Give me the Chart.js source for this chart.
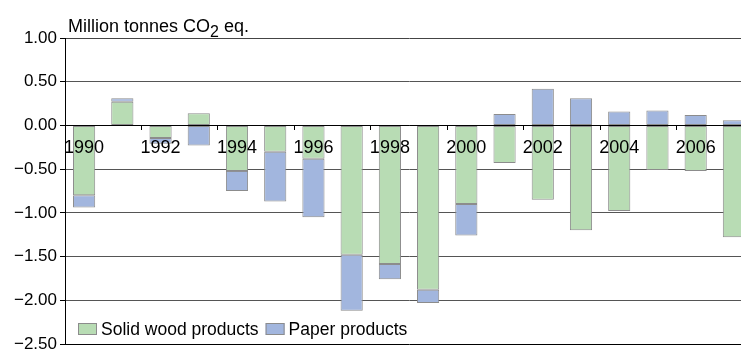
<!DOCTYPE html>
<html>
<head>
<meta charset="utf-8">
<script src="https://cdn.jsdelivr.net/npm/chart.js@4.4.0/dist/chart.umd.min.js"></script>
<style>
  html, body { margin: 0; padding: 0; background: #fff; overflow: hidden; }
  #wrap { position: relative; width: 753px; height: 349px; }
</style>
</head>
<body>
<div id="wrap"><canvas id="hwpChart"></canvas></div>
<script>
const years = ['1990','1991','1992','1993','1994','1995','1996','1997','1998','1999',
               '2000','2001','2002','2003','2004','2005','2006','2007'];
const solidWood = [-0.80, 0.27, -0.145, 0.14, -0.52, -0.30, -0.38, -1.48, -1.585, -1.88,
                   -0.90, -0.43, -0.85, -1.20, -0.98, -0.51, -0.52, -1.28];
const paper = [-0.14, 0.04, -0.065, -0.23, -0.23, -0.57, -0.67, -0.64, -0.175, -0.15,
               -0.36, 0.13, 0.42, 0.31, 0.16, 0.17, 0.12, 0.06];
const yTicks = [1.0, 0.5, 0.0, -0.5, -1.0, -1.5, -2.0, -2.5];

const FONT = '"Liberation Sans", Arial, sans-serif';
const GREEN = '#b8dcb4';
const BLUE = '#a2b6de';
const EDGE = '#8c8c8c';

// unit label above the plot, with a lowered "2"
const unitTitle = {
  id: 'unitTitle',
  afterDraw(chart) {
    const { ctx, chartArea } = chart;
    const x0 = chartArea.left + 3;
    const base = chartArea.top - 6;
    ctx.save();
    ctx.fillStyle = '#000';
    ctx.textBaseline = 'alphabetic';
    ctx.font = '18px ' + FONT;
    let x = x0;
    ctx.fillText('Million tonnes CO', x, base);
    x += ctx.measureText('Million tonnes CO').width;
    ctx.font = '16px ' + FONT;
    ctx.fillText('2', x, base + 5);
    x += ctx.measureText('2').width;
    ctx.font = '18px ' + FONT;
    ctx.fillText(' eq.', x, base);
    ctx.restore();
  }
};

// legend row inside the plot, bottom left
const insideLegend = {
  id: 'insideLegend',
  afterDraw(chart) {
    const { ctx, chartArea } = chart;
    let x = chartArea.left + 13;
    const boxTop = chartArea.bottom - 21;
    ctx.save();
    ctx.font = '17.5px ' + FONT;
    ctx.textBaseline = 'alphabetic';
    chart.data.datasets.forEach(ds => {
      ctx.fillStyle = ds.backgroundColor;
      ctx.fillRect(x, boxTop, 19, 12);
      ctx.strokeStyle = EDGE;
      ctx.lineWidth = 1;
      ctx.strokeRect(x + 0.5, boxTop + 0.5, 18, 11);
      ctx.fillStyle = '#000';
      ctx.fillText(ds.label, x + 23, boxTop + 12);
      x += 23 + ctx.measureText(ds.label).width + 7;
    });
    ctx.restore();
  }
};

new Chart(document.getElementById('hwpChart'), {
  type: 'bar',
  data: {
    labels: years,
    datasets: [
      { label: 'Solid wood products', data: solidWood, backgroundColor: GREEN },
      { label: 'Paper products', data: paper, backgroundColor: BLUE }
    ]
  },
  options: {
    responsive: true,
    maintainAspectRatio: false,
    animation: false,
    events: [],
    layout: { padding: { left: 0, top: 38, right: 0, bottom: 5 } },
    datasets: {
      bar: {
        borderColor: EDGE,
        borderWidth: 1,
        borderSkipped: false,
        barPercentage: 0.58,
        categoryPercentage: 1.0
      }
    },
    plugins: {
      legend: { display: false },
      tooltip: { enabled: false }
    },
    scales: {
      x: {
        stacked: true,
        position: { y: 0 },
        offset: true,
        // zero line, ticks and year labels sit on top of the bars
        border: { display: true, color: '#000', width: 1, z: 1 },
        grid: {
          z: 1,
          drawOnChartArea: false,
          drawTicks: true,
          tickLength: 4,
          tickColor: (c) => (c.index % 2 === 0 && c.index > 0 && c.index < years.length) ? '#000' : 'rgba(0,0,0,0)'
        },
        ticks: {
          z: 1,
          autoSkip: false,
          maxRotation: 0,
          minRotation: 0,
          padding: 8,
          color: '#000',
          font: { family: FONT, size: 18 },
          callback: (v, i) => (i % 2 === 0 ? years[i] : '')
        },
        afterFit: (s) => { s.paddingLeft = 0; s.paddingRight = 0; }
      },
      y: {
        stacked: true,
        min: -2.5,
        max: 1.0,
        border: { display: true, color: '#000', width: 1 },
        grid: {
          color: (c) => (c.tick && c.tick.value === -2.5) ? '#000' : (c.tick && c.tick.value === 1 ? '#444' : '#555'),
          lineWidth: 1,
          drawTicks: true,
          tickLength: 5,
          tickColor: '#000'
        },
        afterBuildTicks: (s) => { s.ticks = yTicks.map(v => ({ value: v })); },
        ticks: {
          padding: 3,
          color: '#000',
          font: { family: FONT, size: 17 },
          callback: (v) => (v < 0 ? '\u2212' : '') + Math.abs(v).toFixed(2)
        },
        afterFit: (s) => { s.width = 65; s.paddingTop = 0; s.paddingBottom = 0; }
      }
    }
  },
  plugins: [unitTitle, insideLegend]
});
</script>
</body>
</html>
